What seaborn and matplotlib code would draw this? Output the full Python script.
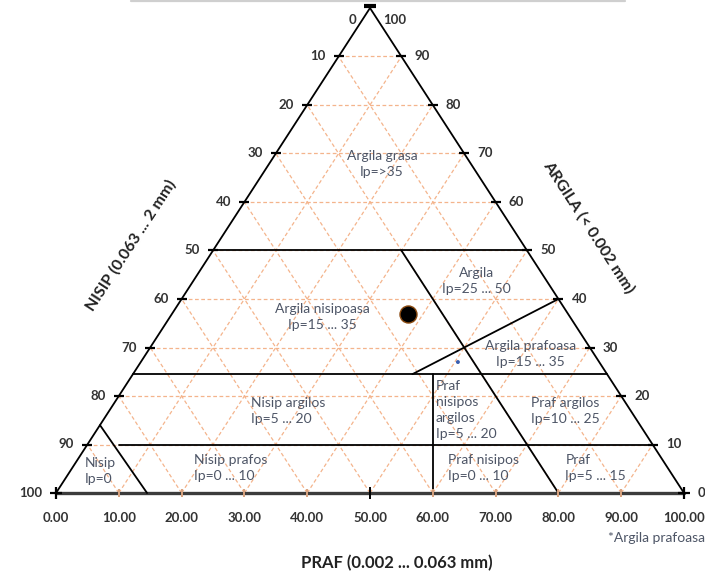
import matplotlib
matplotlib.use("Agg")
import matplotlib.pyplot as plt
from matplotlib.lines import Line2D
import seaborn as sns

# Grid levels (percent) and axis tick labels
GRID_LEVELS = [10, 20, 30, 40, 50, 60, 70, 80, 90]
PRAF_TICKS = [0, 10, 20, 30, 40, 50, 60, 70, 80, 90, 100]
PRAF_TICK_LABELS = ["0.00", "10.00", "20.00", "30.00", "40.00", "50.00",
                    "60.00", "70.00", "80.00", "90.00", "100.00"]
CLAY_TICKS = [0, 10, 20, 30, 40, 50, 60, 70, 80, 90, 100]
NISIP_LABELS = ["100", "90", "80", "70", "60", "50", "40", "30", "20", "10", "0"]
ARGILA_LABELS = ["0", "10", "20", "30", "40", "50", "60", "70", "80", "90", "100"]

# Class boundaries: x on the praf scale, y = clay percent
BOUNDARY_X = [[25, 75], [12.25, 87.75], [10, 95], [55, 80], [56.75, 80], [60, 60], [7, 14.5]]
BOUNDARY_Y = [[50, 50], [24.5, 24.5], [10, 10], [50, 0], [24.5, 40], [24.5, 0], [14, 0]]

# Soil classes with plasticity index ranges
CLASS_TEXT = ["Argila grasa\nIp=>35", "Argila\nIp=25 ... 50",
              "Argila nisipoasa\nIp=15 ... 35", "Argila prafoasa\nIp=15 ... 35",
              "Praf\nnisipos\nargilos\nIp=5 ... 20", "Nisip argilos\nIp=5 ... 20",
              "Praf argilos\nIp=10 ... 25", "Nisip prafos\nIp=0 ... 10",
              "Nisip\nIp=0", "Praf nisipos\nIp=0 ... 10", "Praf\nIp=5 ... 15"]
CLASS_X = [51.9, 67.0, 42.4, 75.5, 60.5, 31.1, 75.6, 22.0, 4.6, 62.4, 81.1]
CLASS_Y = [67.8, 43.8, 36.3, 28.6, 17.1, 17.0, 17.0, 5.2, 4.5, 5.2, 5.2]
CLASS_ALIGN = ["center", "center", "center", "center", "left", "left",
               "left", "left", "left", "left", "left"]

# Sample point and the marked Argila prafoasa point
SAMPLE_X = [56.0]
SAMPLE_CLAY = [37.0]
STAR_X = [64.0]
STAR_CLAY = [27.0]

sns.set_style("white")
plt.rcParams["font.family"] = ["Lato", "DejaVu Sans"]

W, H = 705, 573
fig = plt.figure(figsize=(W / 100, H / 100), dpi=100)
ax = fig.add_axes([56 / W, 80 / H, 628 / W, 485 / H])
ax.set_xlim(0, 100)
ax.set_ylim(0, 100)
ax.axis("off")

LABEL_COLOR = "#333333"
TEXT_COLOR = "#4d5566"
GRID_COLOR = "#f4b48c"

# dashed grid: horizontal clay levels and lines parallel to both sides
for g in GRID_LEVELS:
    ax.plot([g / 2, 100 - g / 2], [g, g], color=GRID_COLOR, lw=0.9,
            ls=(0, (3, 2)), zorder=1)
    ax.plot([g, 50 + g / 2], [0, 100 - g], color=GRID_COLOR, lw=0.9,
            ls=(0, (3, 2)), zorder=1)
    ax.plot([g, g / 2], [0, g], color=GRID_COLOR, lw=0.9,
            ls=(0, (3, 2)), zorder=1)

# triangle sides
ax.plot([0, 50, 100], [0, 100, 0], color="black", lw=1.3, zorder=3,
        solid_joinstyle="miter", clip_on=False)
ax.plot([0, 100], [0, 0], color="#3c3c3c", lw=2.4, zorder=3, clip_on=False)

# class boundaries
for bx, by in zip(BOUNDARY_X, BOUNDARY_Y):
    ax.plot(bx, by, color="black", lw=1.3, zorder=4, clip_on=False)

# tick marks on the sides and base
edge_lx = [c / 2 for c in GRID_LEVELS]
edge_rx = [100 - c / 2 for c in GRID_LEVELS]
ax.plot(edge_lx, GRID_LEVELS, ls="none", marker="_", ms=7, mew=1.6,
        color="black", zorder=5)
ax.plot(edge_rx, GRID_LEVELS, ls="none", marker="_", ms=7, mew=1.6,
        color="black", zorder=5)
ax.plot([g for g in GRID_LEVELS if g != 50], [0] * 8, ls="none", marker="|",
        ms=6, mew=1.4, color="#d9a37f", zorder=5, clip_on=False)
ax.plot([50], [0], ls="none", marker="|", ms=8, mew=1.4, color="black",
        zorder=5, clip_on=False)
ax.plot([0, 100], [0, 0], ls="none", marker="+", ms=8, mew=1.6,
        color="black", zorder=6, clip_on=False)
ax.plot([50], [100.4], ls="none", marker="_", ms=8, mew=3, color="black",
        zorder=6, clip_on=False)

# side labels
for c, lab in zip(CLAY_TICKS, NISIP_LABELS):
    yy = min(c, 97.5)
    ax.text(c / 2 - 2.1, yy, lab, ha="right", va="center", fontsize=9.5,
            fontweight="bold", color=LABEL_COLOR)
for c, lab in zip(CLAY_TICKS, ARGILA_LABELS):
    yy = min(c, 97.5)
    ax.text(100 - c / 2 + 2.1, yy, lab, ha="left", va="center", fontsize=9.5,
            fontweight="bold", color=LABEL_COLOR)
for t, lab in zip(PRAF_TICKS, PRAF_TICK_LABELS):
    ax.text(t, -5.2, lab, ha="center", va="center", fontsize=9.5,
            fontweight="bold", color=LABEL_COLOR)

# axis titles
ax.text(11.9, 51.1, "NISIP (0.063 ... 2 mm)", rotation=57, rotation_mode="anchor",
        ha="center", va="center", fontsize=11.5, fontweight="bold", color="#222222")
ax.text(84.9, 54.8, "ARGILA (< 0.002 mm)", rotation=-57, rotation_mode="anchor",
        ha="center", va="center", fontsize=11.5, fontweight="bold", color="#222222")
ax.text(54.3, -14.4, "PRAF (0.002 ... 0.063 mm)", ha="center", va="center",
        fontsize=12, fontweight="bold", color="#222222")
ax.text(103.4, -9.3, "*Argila prafoasa", ha="right", va="center",
        fontsize=10, color=TEXT_COLOR)

# class names
for txt, x, y, al in zip(CLASS_TEXT, CLASS_X, CLASS_Y, CLASS_ALIGN):
    ax.text(x, y, txt, ha=al, va="center", multialignment=al, fontsize=10,
            linespacing=1.4, color=TEXT_COLOR, zorder=7)

# sample points
sns.scatterplot(x=SAMPLE_X, y=SAMPLE_CLAY, ax=ax, s=150, color="black",
                edgecolor="#8a4a10", linewidth=1.0, zorder=8)
sns.scatterplot(x=STAR_X, y=STAR_CLAY, ax=ax, s=8, color="#3a5fb0",
                edgecolor="none", zorder=8)

# top border
fig.add_artist(Line2D([131 / W, 625 / W], [1 - 1.2 / H, 1 - 1.2 / H],
                      color="#cfcfcf", lw=1.6))

fig.savefig("out.png", dpi=100)
